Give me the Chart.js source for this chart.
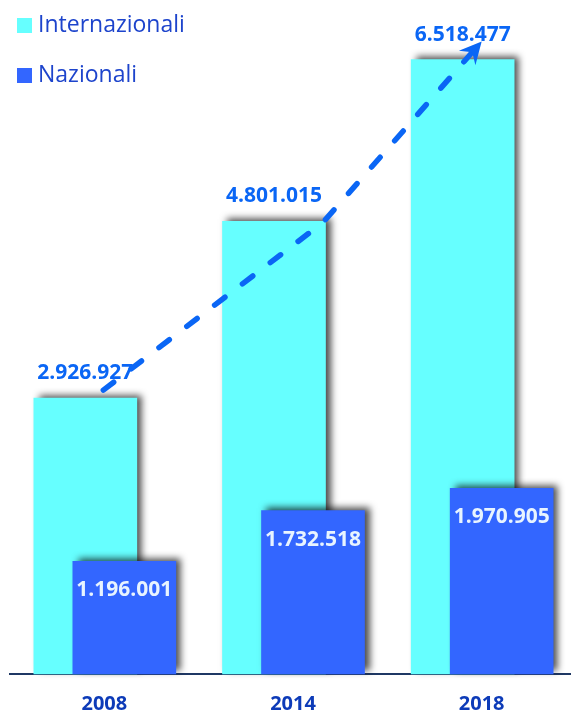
<!DOCTYPE html>
<html>
<head>
<meta charset="utf-8">
<script src="https://cdn.jsdelivr.net/npm/chart.js@4.4.1/dist/chart.umd.min.js"></script>
<style>
  html, body { margin: 0; padding: 0; background: #fff; overflow: hidden; }
</style>
</head>
<body>
<canvas id="chart" width="576" height="715"></canvas>
<script>
// data
const years = ['2008', '2014', '2018'];
const internazionali = [2926927, 4801015, 6518477];
const nazionali = [1196001, 1732518, 1970905];
const seriesNames = ['Internazionali', 'Nazionali'];

const cyan = '#66FFFF';
const blue = '#3366FF';
const labelBlue = '#0A66F5';
const barOffsets = [-19, 20]; // cyan bars shifted left, blue bars right

function fmt(v) {
  return String(v).replace(/\B(?=(\d{3})+(?!\d))/g, '.');
}

// overlap the two bars and give them a drop shadow
const overlapBars = {
  id: 'overlapBars',
  beforeDatasetDraw(chart, args) {
    const ctx = chart.ctx;
    ctx.save();
    ctx.translate(barOffsets[args.index], 0);
    ctx.shadowColor = 'rgba(0,0,0,0.7)';
    ctx.shadowBlur = 7;
    ctx.shadowOffsetX = 5;
    ctx.shadowOffsetY = -3;
  },
  afterDatasetDraw(chart) {
    chart.ctx.restore();
  }
};

// value labels + dashed trend arrow
const extras = {
  id: 'extras',
  afterDatasetsDraw(chart) {
    const ctx = chart.ctx;
    ctx.save();
    ctx.textAlign = 'center';
    ctx.textBaseline = 'middle';
    ctx.font = 'bold 21px "Open Sans"';
    chart.data.datasets.forEach((ds, i) => {
      chart.getDatasetMeta(i).data.forEach((bar, j) => {
        const x = bar.x + barOffsets[i];
        if (i === 0) {
          ctx.fillStyle = labelBlue;
          ctx.fillText(fmt(ds.data[j]), x, bar.y - 25);
        } else {
          ctx.fillStyle = '#E8F4FF';
          ctx.fillText(fmt(ds.data[j]), x, bar.y + 29);
        }
      });
    });

    // trend arrow following the Internazionali bars
    const m = chart.getDatasetMeta(0).data;
    const pts = [
      [m[0].x - 1, m[0].y - 8],
      [m[1].x + 30, m[1].y + 1],
      [m[2].x, m[2].y - 18]
    ];
    const tip = pts[2];
    const prev = pts[1];
    let dx = tip[0] - prev[0], dy = tip[1] - prev[1];
    const len = Math.hypot(dx, dy);
    dx /= len; dy /= len;
    const headLen = 22, headW = 11;
    const base = [tip[0] - dx * 16, tip[1] - dy * 16];

    ctx.strokeStyle = labelBlue;
    ctx.lineWidth = 5.5;
    ctx.lineCap = 'round';
    ctx.lineJoin = 'round';
    ctx.setLineDash([13, 22]);
    ctx.beginPath();
    ctx.moveTo(pts[0][0], pts[0][1]);
    ctx.lineTo(pts[1][0], pts[1][1]);
    ctx.lineTo(base[0], base[1]);
    ctx.stroke();
    ctx.setLineDash([]);

    const bx = tip[0] - dx * headLen, by = tip[1] - dy * headLen;
    const nx = tip[0] - dx * headLen * 0.65, ny = tip[1] - dy * headLen * 0.65;
    ctx.fillStyle = labelBlue;
    ctx.beginPath();
    ctx.moveTo(tip[0], tip[1]);
    ctx.lineTo(bx - dy * headW, by + dx * headW);
    ctx.lineTo(nx, ny);
    ctx.lineTo(bx + dy * headW, by - dx * headW);
    ctx.closePath();
    ctx.fill();
    ctx.restore();
  }
};

// legend in the top left corner
const legendBox = {
  id: 'legendBox',
  afterDraw(chart) {
    const ctx = chart.ctx;
    ctx.save();
    ctx.font = '23px "Open Sans"';
    ctx.textBaseline = 'middle';
    ctx.textAlign = 'left';
    chart.data.datasets.forEach((ds, i) => {
      const y = 25 + i * 50;
      ctx.fillStyle = ds.backgroundColor;
      ctx.fillRect(17, y - 7, 15, 15);
      ctx.fillStyle = '#1D44CC';
      ctx.fillText(ds.label, 38, y);
    });
    ctx.restore();
  }
};

new Chart(document.getElementById('chart'), {
  type: 'bar',
  data: {
    labels: years,
    datasets: [
      { label: seriesNames[0], data: internazionali, backgroundColor: cyan, order: 2, clip: false },
      { label: seriesNames[1], data: nazionali, backgroundColor: blue, order: 1, clip: false }
    ]
  },
  options: {
    responsive: false,
    animation: false,
    layout: { padding: { left: 10, right: 0, top: 0, bottom: 0 } },
    datasets: { bar: { grouped: false, barThickness: 103 } },
    plugins: {
      legend: { display: false },
      tooltip: { enabled: false }
    },
    scales: {
      x: {
        grid: { display: false, drawTicks: false },
        border: { display: true, color: '#1F3864', width: 2 },
        ticks: {
          color: '#0D3BB8',
          font: { family: 'Open Sans', size: 20, weight: 'bold' },
          padding: 18
        },
        afterFit(axis) { axis.height = 41; }
      },
      y: {
        display: false,
        min: 0,
        max: 7150000
      }
    }
  },
  plugins: [overlapBars, extras, legendBox]
});
</script>
</body>
</html>
